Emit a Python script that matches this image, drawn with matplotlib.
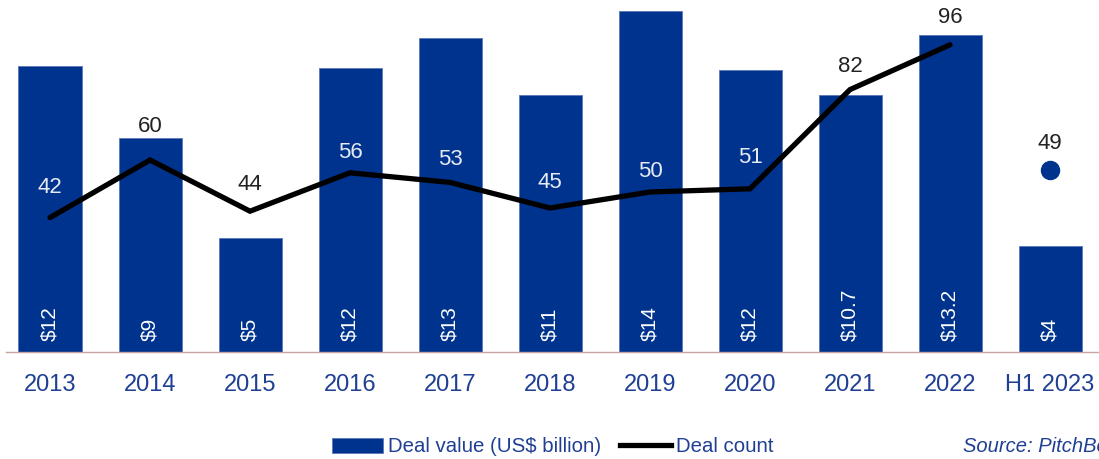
import matplotlib
matplotlib.use('Agg')
import matplotlib.pyplot as plt
from matplotlib.patches import Patch
from matplotlib.lines import Line2D

plt.rcParams['font.family'] = ['Liberation Sans', 'DejaVu Sans']

years = ['2013', '2014', '2015', '2016', '2017', '2018', '2019', '2020', '2021', '2022', 'H1 2023']
deal_value = [11.9, 8.9, 4.75, 11.85, 13.1, 10.7, 14.2, 11.75, 10.7, 13.2, 4.4]
value_labels = ['$12', '$9', '$5', '$12', '$13', '$11', '$14', '$12', '$10.7', '$13.2', '$4']
deal_count = [42, 60, 44, 56, 53, 45, 50, 51, 82, 96]
h1_count = 49
h1_marker_level = 57   # the H1 dot sits higher in the original than its value
# count label inside a bar -> light text
inside_bar = [True, False, False, True, True, True, True, True, False, False]

# label lift above each line point (points), as placed in the original
label_lift = [21.6, 23.8, 19.4, 14.4, 16.6, 18.7, 14.4, 22.3, 16.6, 19.4]

BLUE = '#00338D'
TXT_BLUE = '#1F3F93'

fig = plt.figure(figsize=(10.99, 4.59), dpi=100)
ax = fig.add_axes([6 / 1099, 107 / 459, 1 - 6 / 1099, 352 / 459])
x = list(range(len(years)))

ax.bar(x, deal_value, width=0.63, color=BLUE, edgecolor='#5a78b8', lw=0.6, zorder=2)
for xi, lab in zip(x, value_labels):
    ax.text(xi, 0.45, lab, rotation=90, ha='center', va='bottom',
            color='white', fontsize=15, zorder=4)

ax.set_xlim(-0.44, 10.49)
ax.set_ylim(0, 352 / 24)
ax.set_yticks([])
ax.set_xticks(x)
ax.set_xticklabels(years, fontsize=17, color=TXT_BLUE)
ax.tick_params(axis='x', length=0, pad=16)
for s in ['top', 'right', 'left']:
    ax.spines[s].set_visible(False)
ax.spines['bottom'].set_color('#c9a3a0')
ax.spines['bottom'].set_linewidth(1.0)

ax2 = ax.twinx()
ax2.set_ylim(0, 352 / 3.2)
ax2.set_yticks([])
for s in ax2.spines.values():
    s.set_visible(False)
ax2.plot(x[:len(deal_count)], deal_count, color='black', lw=3.8,
         solid_capstyle='round', solid_joinstyle='miter', zorder=3)
ax2.plot([x[-1]], [h1_marker_level], 'o', color=BLUE, markersize=13, zorder=3)

for xi, c, inside, lift in zip(x, deal_count, inside_bar, label_lift):
    ax2.annotate(str(c), (xi, c), xytext=(0, lift), textcoords='offset points',
                 ha='center', va='center', fontsize=16,
                 color='#e6ebf5' if inside else '#222222', zorder=5)
ax2.annotate(str(h1_count), (x[-1], h1_marker_level), xytext=(0, 19),
             textcoords='offset points', ha='center', va='center',
             fontsize=16, color='#222222')

handles = [Patch(facecolor=BLUE, edgecolor='#5a78b8', lw=0.6),
           Line2D([0], [0], color='black', lw=3.8)]
fig.legend(handles, ['Deal value (US$ billion)', 'Deal count'],
           loc='center', bbox_to_anchor=(553 / 1099, 1 - 447 / 459), ncol=2,
           frameon=False, fontsize=14.7, handlelength=2.5, handleheight=0.75,
           handletextpad=0.25, columnspacing=0.9, labelcolor=TXT_BLUE)
fig.text(963 / 1099, 1 - 447 / 459, 'Source: PitchBook', fontsize=14.5,
         style='italic', color=TXT_BLUE, ha='left', va='center')

fig.savefig('out.png', dpi=100)
